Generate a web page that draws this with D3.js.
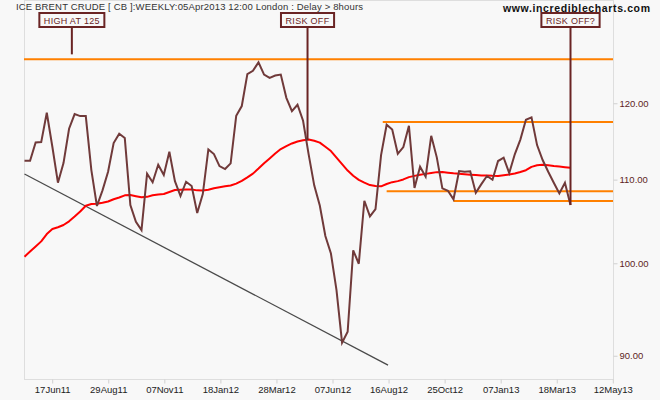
<!DOCTYPE html>
<html><head><meta charset="utf-8">
<script src="https://cdn.jsdelivr.net/npm/d3@7/dist/d3.min.js"></script>
<style>
body{margin:0;background:#f8f8f8;}
svg{display:block;}
text{font-family:"Liberation Sans",Arial,sans-serif;}
</style>
</head><body>
<svg id="chart" width="660" height="400"></svg>
<script>
const titleText = "ICE BRENT CRUDE [ CB ]:WEEKLY:05Apr2013 12:00 London : Delay > 8hours";
const sourceText = "www.incrediblecharts.com";

// weekly closes (oldest first)
const closes = [112.33,112.33,114.68,114.74,118.64,114.13,109.55,112.03,116.50,118.46,
118.19,118.19,111.14,106.68,108.60,110.93,114.61,115.83,115.27,106.80,
104.79,103.80,110.68,109.61,111.82,110.51,113.48,109.74,107.90,109.67,
109.14,105.83,108.15,113.79,113.19,111.65,111.27,111.99,118.23,119.55,
123.98,124.45,125.65,123.91,123.45,123.77,123.91,120.67,118.87,119.72,
117.56,113.15,109.22,106.74,103.10,101.06,96.94,91.30,92.45,101.43,
99.89,107.32,105.43,106.31,113.06,117.03,116.39,113.22,114.09,116.88,
108.89,111.56,110.30,115.57,112.76,108.85,108.55,107.50,111.02,110.93,
110.98,108.31,109.38,110.39,109.92,112.29,112.71,110.76,113.15,115.07,
117.70,118.02,114.35,112.42,110.93,109.55,108.23,109.55,106.80];

// moving average (red)
const movingAverage = [100.70,101.30,101.88,102.47,103.33,103.92,104.13,104.40,104.84,105.41,
106.01,106.72,106.92,106.95,107.07,107.23,107.51,107.72,107.99,108.02,
107.88,107.74,107.80,108.00,108.09,108.15,108.39,108.64,108.67,108.71,
108.71,108.60,108.58,108.67,108.86,108.99,109.10,109.20,109.44,109.78,
110.22,110.69,111.33,112.01,112.63,113.25,113.83,114.22,114.56,114.81,
114.97,115.07,114.91,114.67,114.14,113.57,112.72,111.89,111.08,110.42,
109.91,109.56,109.26,109.14,109.10,109.39,109.62,109.75,109.96,110.25,
110.41,110.56,110.66,110.78,110.88,110.89,110.81,110.73,110.68,110.62,
110.56,110.51,110.47,110.44,110.41,110.40,110.48,110.57,110.70,110.90,
111.12,111.55,111.75,111.83,111.74,111.65,111.58,111.50,111.43];

const yTickValues = [90, 100, 110, 120];
const xTickLabels = ["17Jun11","29Aug11","07Nov11","18Jan12","28Mar12","07Jun12","16Aug12","25Oct12","07Jan13","18Mar13","12May13"];
const xTickWeeks = [0,10,20,30,40,50,60,70,80,90,100];

// horizontal levels: value, starting week index (null = from left edge)
const levelValues = [126.1, 117.4, 108.5, 107.3];
const levelStarts = [null, 64.3, 65, 77];

// trend line endpoints (week index, value)
const trendWeeks = [0, 65.25];
const trendValues = [110.64, 89.0];

// annotations
const annLabels = ["HIGH AT 125", "RISK OFF", "RISK OFF?"];
const annWeeks = [8.5, 50.8, 98];
const annEndValues = [126.8, 115.0, 106.8];

const svg = d3.select("#chart");
const W = 660, H = 400;
const plot = {left: 24, right: 613, top: 0, bottom: 379};

svg.append("rect").attr("width", W).attr("height", H).attr("fill", "#f8f8f8");

const x = d3.scaleLinear().domain([0, closes.length - 1]).range([24.5, 570.5]);
const xAxisScale = d3.scaleLinear().domain([0, 100]).range([51.7, 612.3]);
const y = d3.scaleLog().domain([87.6, 134.9]).range([plot.bottom, plot.top]);

// frame
svg.append("rect")
  .attr("x", plot.left + 0.5).attr("y", plot.top + 0.5)
  .attr("width", plot.right - plot.left).attr("height", plot.bottom - plot.top)
  .attr("fill", "none").attr("stroke", "#dedede").attr("stroke-width", 1);

// x axis
const xAxis = svg.append("g")
  .attr("transform", `translate(0.5,${plot.bottom + 0.5})`)
  .call(d3.axisBottom(xAxisScale).tickValues(xTickWeeks)
    .tickFormat((d, i) => xTickLabels[i]).tickSize(4).tickSizeOuter(0).tickPadding(3));
xAxis.select(".domain").remove();
xAxis.selectAll(".tick line").attr("stroke", "#d0d0d0");
xAxis.selectAll("text").attr("fill", "#222").attr("font-size", "9.5px")
  .attr("font-family", "'Liberation Sans',Arial,sans-serif");

// y axis
const yAxis = svg.append("g")
  .attr("transform", `translate(${plot.right + 0.5},0.5)`)
  .call(d3.axisRight(y).tickValues(yTickValues).tickFormat(d3.format(".2f"))
    .tickSize(4).tickSizeOuter(0).tickPadding(2));
yAxis.select(".domain").remove();
yAxis.selectAll(".tick line").attr("stroke", "#d0d0d0");
yAxis.selectAll("text").attr("fill", "#5e1e1e").attr("font-size", "9.5px")
  .attr("font-family", "'Liberation Sans',Arial,sans-serif");

const g = svg.append("g");

// level lines
levelValues.forEach((v, i) => {
  const x1 = levelStarts[i] === null ? plot.left : x(levelStarts[i]);
  g.append("line")
    .attr("x1", x1).attr("x2", plot.right)
    .attr("y1", y(v)).attr("y2", y(v))
    .attr("stroke", "#ff8000").attr("stroke-width", 2);
});

// trend line
g.append("line")
  .attr("x1", x(trendWeeks[0])).attr("y1", y(trendValues[0]))
  .attr("x2", x(trendWeeks[1])).attr("y2", y(trendValues[1]))
  .attr("stroke", "#4a4a4a").attr("stroke-width", 1.3);

// moving average
g.append("path")
  .datum(movingAverage)
  .attr("d", d3.line().x((d, i) => x(i)).y(d => y(d)))
  .attr("fill", "none").attr("stroke", "#ff0000").attr("stroke-width", 2)
  .attr("stroke-linejoin", "round");

// price line
g.append("path")
  .datum(closes)
  .attr("d", d3.line().x((d, i) => x(i)).y(d => y(d)))
  .attr("fill", "none").attr("stroke", "#703a3a").attr("stroke-width", 2)
  .attr("stroke-linejoin", "miter");

// annotations
annLabels.forEach((lab, i) => {
  const ax = x(annWeeks[i]);
  const boxTop = 13, boxH = 14;
  g.append("line")
    .attr("x1", ax).attr("x2", ax)
    .attr("y1", boxTop + boxH).attr("y2", y(annEndValues[i]))
    .attr("stroke", "#6a2424").attr("stroke-width", 2);
  const t = g.append("text")
    .attr("x", ax).attr("y", 24)
    .attr("text-anchor", "middle")
    .attr("font-size", "9px").attr("letter-spacing", "0.3px")
    .attr("fill", "#6a2424").text(lab);
  const bb = t.node().getBBox();
  g.insert("rect", "text")
    .attr("x", ax - bb.width / 2 - 4.5).attr("y", boxTop)
    .attr("width", bb.width + 9).attr("height", boxH)
    .attr("fill", "#f8f8f8").attr("stroke", "#6a2424").attr("stroke-width", 2);
});

// title & source
svg.append("text").attr("x", 16).attr("y", 10)
  .attr("font-size", "9.5px").attr("fill", "#333")
  .attr("textLength", 347).attr("lengthAdjust", "spacing")
  .text(titleText);
svg.append("text").attr("x", 503).attr("y", 12)
  .attr("font-size", "10.5px").attr("font-weight", "bold").attr("fill", "#111")
  .attr("textLength", 147).attr("lengthAdjust", "spacing")
  .text(sourceText);
</script>
</body></html>
